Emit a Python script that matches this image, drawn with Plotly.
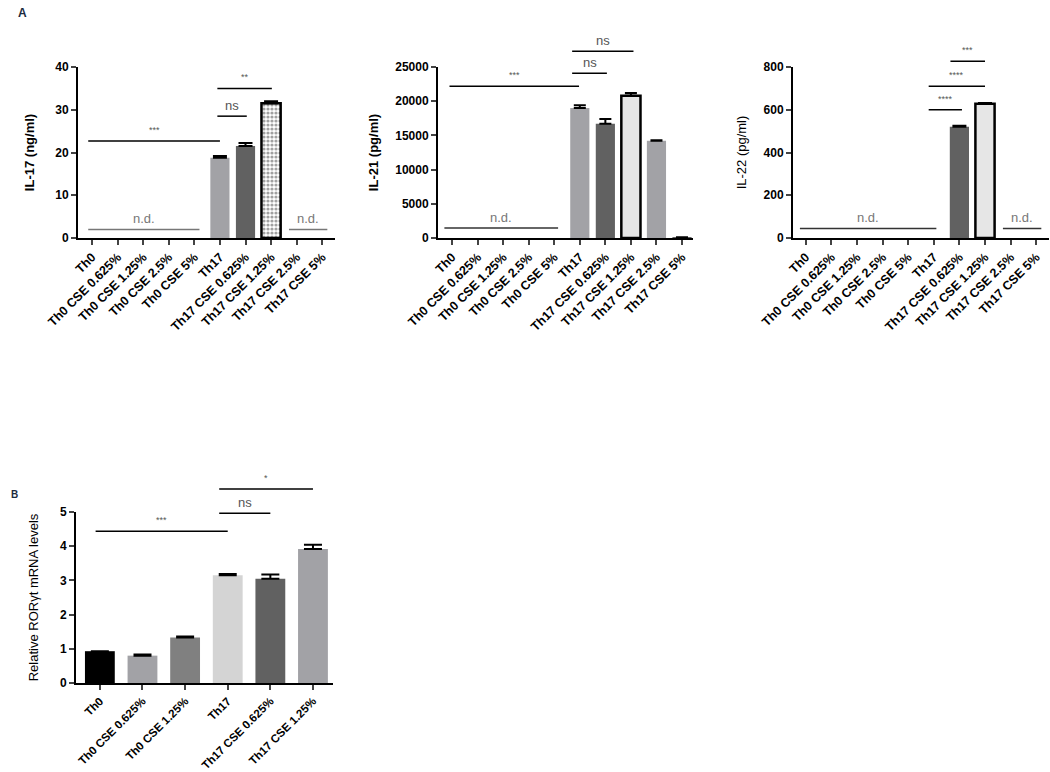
import plotly.graph_objects as go

W, H = 1050, 772
FONT = "Liberation Sans, Arial, sans-serif"

cats_a = ["Th0", "Th0 CSE 0.625%", "Th0 CSE 1.25%", "Th0 CSE 2.5%", "Th0 CSE 5%",
          "Th17", "Th17 CSE 0.625%", "Th17 CSE 1.25%", "Th17 CSE 2.5%", "Th17 CSE 5%"]
cats_b = ["Th0", "Th0 CSE 0.625%", "Th0 CSE 1.25%", "Th17", "Th17 CSE 0.625%", "Th17 CSE 1.25%"]

# IL-17 (ng/ml), None = not detected
il17 = [None, None, None, None, None, 18.8, 21.5, 31.5, None, None]
il17_err = [0, 0, 0, 0, 0, 0.4, 0.7, 0.5, 0, 0]
# IL-21 (pg/ml)
il21 = [None, None, None, None, None, 19000, 16700, 20800, 14200, 100]
il21_err = [0, 0, 0, 0, 0, 400, 700, 400, 100, 0]
# IL-22 (pg/ml)
il22 = [None, None, None, None, None, None, 520, 628, None, None]
il22_err = [0, 0, 0, 0, 0, 0, 5, 4, 0, 0]
# relative RORgt mRNA
rorgt = [0.93, 0.80, 1.33, 3.15, 3.05, 3.92]
rorgt_err = [0, 0.03, 0.03, 0.04, 0.12, 0.12]

# significance brackets: (from, to, height, label)
sig_il17 = [(-0.15, 5.0, 22.7, "***"), (4.9, 6.05, 28.5, "ns"), (4.9, 7.03, 35.0, "**")]
sig_il21 = [(-0.1, 4.97, 22200, "***"), (4.7, 6.06, 24100, "ns"), (4.7, 7.1, 27300, "ns")]
sig_il22 = [(4.8, 6.1, 600, "****"), (4.8, 7.0, 710, "****"), (5.65, 7.0, 827, "***")]
sig_b = [(-0.1, 3.0, 4.44, "***"), (2.8, 4.0, 4.96, "ns"), (2.8, 5.0, 5.67, "*")]
# not-detected lines: (from, to, height)
nd_il17 = [(-0.15, 4.2, 2), (7.7, 9.2, 2)]
nd_il21 = [(-0.3, 4.15, 1450)]
nd_il22 = [(-0.23, 5.1, 45), (7.7, 9.2, 45)]

LG, DG, VL = "#a2a2a6", "#616161", "#e6e6e6"


def px_x(a, b):
    return [a / W, b / W]


def px_y(top, bottom):
    return [1 - bottom / H, 1 - top / H]


fig = go.Figure()

fig.add_trace(go.Bar(
    x=cats_a, y=il17, xaxis="x", yaxis="y", width=0.75,
    marker=dict(color=[LG] * 6 + [DG, "white", LG, LG],
                line=dict(color=["black"] * 10, width=[0] * 7 + [2.5, 0, 0]),
                pattern=dict(shape=[""] * 7 + [".", "", ""], fgcolor="black",
                             size=4, solidity=0.5)),
    error_y=dict(type="data", symmetric=False, array=il17_err, arrayminus=[0] * 10,
                 color="black", thickness=2, width=7)))

fig.add_trace(go.Bar(
    x=cats_a, y=il21, xaxis="x2", yaxis="y2", width=0.75,
    marker=dict(color=[LG] * 6 + [DG, VL, LG, DG],
                line=dict(color=["black"] * 10, width=[0] * 7 + [2.5, 0, 0])),
    error_y=dict(type="data", symmetric=False, array=il21_err, arrayminus=[0] * 10,
                 color="black", thickness=2, width=6)))

fig.add_trace(go.Bar(
    x=cats_a, y=il22, xaxis="x3", yaxis="y3", width=0.75,
    marker=dict(color=[LG] * 6 + [DG, VL, LG, LG],
                line=dict(color=["black"] * 10, width=[0] * 7 + [2.5, 0, 0])),
    error_y=dict(type="data", symmetric=False, array=il22_err, arrayminus=[0] * 10,
                 color="black", thickness=2, width=7)))

fig.add_trace(go.Bar(
    x=cats_b, y=rorgt, xaxis="x4", yaxis="y4", width=0.7,
    marker=dict(color=["black", LG, "#808080", "#d4d4d4", DG, LG], line=dict(width=0)),
    error_y=dict(type="data", symmetric=False, array=rorgt_err, arrayminus=[0] * 6,
                 color="black", thickness=2, width=9)))

yfont = dict(family=FONT, size=12, color="black", weight="bold")


def xax(dom, rng, size=12.5):
    return dict(domain=dom, range=rng, type="category", tickangle=-45,
                tickfont=dict(family=FONT, size=size, color="black", weight="bold"),
                ticks="outside", ticklen=5, tickwidth=2, showline=True, linewidth=2,
                linecolor="black", showgrid=False, zeroline=False, automargin=False)


def yax(dom, rng, dtick, title, bold=True, standoff=14):
    return dict(domain=dom, range=rng, dtick=dtick, tickformat="d", tickfont=yfont,
                ticks="outside", ticklen=5, tickwidth=2, showline=True, linewidth=2,
                linecolor="black", showgrid=False, zeroline=False, automargin=False,
                title=dict(text=title, standoff=standoff,
                           font=dict(family=FONT, size=13, color="black",
                                     weight="bold" if bold else "normal")))


yA = px_y(67, 238)
fig.update_layout(
    width=W, height=H, margin=dict(l=0, r=0, t=0, b=0),
    paper_bgcolor="white", plot_bgcolor="white", showlegend=False,
    font=dict(family=FONT, color="black"),
    xaxis=xax(px_x(78, 335), [-0.55, 9.5]),
    yaxis=yax(yA, [0, 40], 10, "IL-17 (ng/ml)", standoff=18),
    xaxis2=dict(xax(px_x(438, 693), [-0.55, 9.43]), anchor="y2"),
    yaxis2=dict(yax(yA, [0, 25000], 5000, "IL-21 (pg/ml)"), anchor="x2"),
    xaxis3=dict(xax(px_x(793, 1049), [-0.5, 9.5]), anchor="y3"),
    yaxis3=dict(yax(yA, [0, 800], 200, "IL-22 (pg/ml)", bold=False), anchor="x3"),
    xaxis4=dict(xax(px_x(76, 333), [-0.56, 5.47], size=11.5), anchor="y4"),
    yaxis4=dict(yax(px_y(512, 683), [0, 5], 1, "Relative RORγt mRNA levels", bold=False,
                    standoff=18), anchor="x4"),
)


def add_sig(sigs, xa, ya, ymax):
    for x0, x1, y, lab in sigs:
        fig.add_shape(type="line", xref=xa, yref=ya + " domain", x0=x0, x1=x1,
                      y0=y / ymax, y1=y / ymax, line=dict(color="black", width=1.5))
        star = lab != "ns"
        fig.add_annotation(xref=xa, yref=ya + " domain", x=(x0 + x1) / 2, y=y / ymax,
                           text=lab, showarrow=False, yanchor="bottom",
                           yshift=4 if star else 1,
                           font=dict(family=FONT, size=9 if star else 13, color="#555555"))


def add_nd(nds, xa, ya, color):
    for x0, x1, y in nds:
        fig.add_shape(type="line", xref=xa, yref=ya, x0=x0, x1=x1, y0=y, y1=y,
                      line=dict(color=color, width=1.5))
        fig.add_annotation(xref=xa, yref=ya, x=(x0 + x1) / 2, y=y, text="n.d.",
                           showarrow=False, yanchor="bottom", yshift=1,
                           font=dict(family=FONT, size=13, color="#777777"))


add_sig(sig_il17, "x", "y", 40)
add_sig(sig_il21, "x2", "y2", 25000)
add_sig(sig_il22, "x3", "y3", 800)
add_sig(sig_b, "x4", "y4", 5)
add_nd(nd_il17, "x", "y", "#777777")
add_nd(nd_il21, "x2", "y2", "#333333")
add_nd(nd_il22, "x3", "y3", "#333333")

fig.add_annotation(xref="paper", yref="paper", x=22 / W, y=1 - 13 / H, text="<b>A</b>",
                   showarrow=False, xanchor="center", yanchor="middle",
                   font=dict(family=FONT, size=12, color="#1a2a40"))
fig.add_annotation(xref="paper", yref="paper", x=14 / W, y=1 - 494 / H, text="<b>B</b>",
                   showarrow=False, xanchor="center", yanchor="middle",
                   font=dict(family=FONT, size=10, color="#1a2a40"))

# drop the page's default body margin so the figure sits at the window's corner
fig.write_html("out.html", config={"displayModeBar": False},
               post_script="document.body.style.margin='0px';")
